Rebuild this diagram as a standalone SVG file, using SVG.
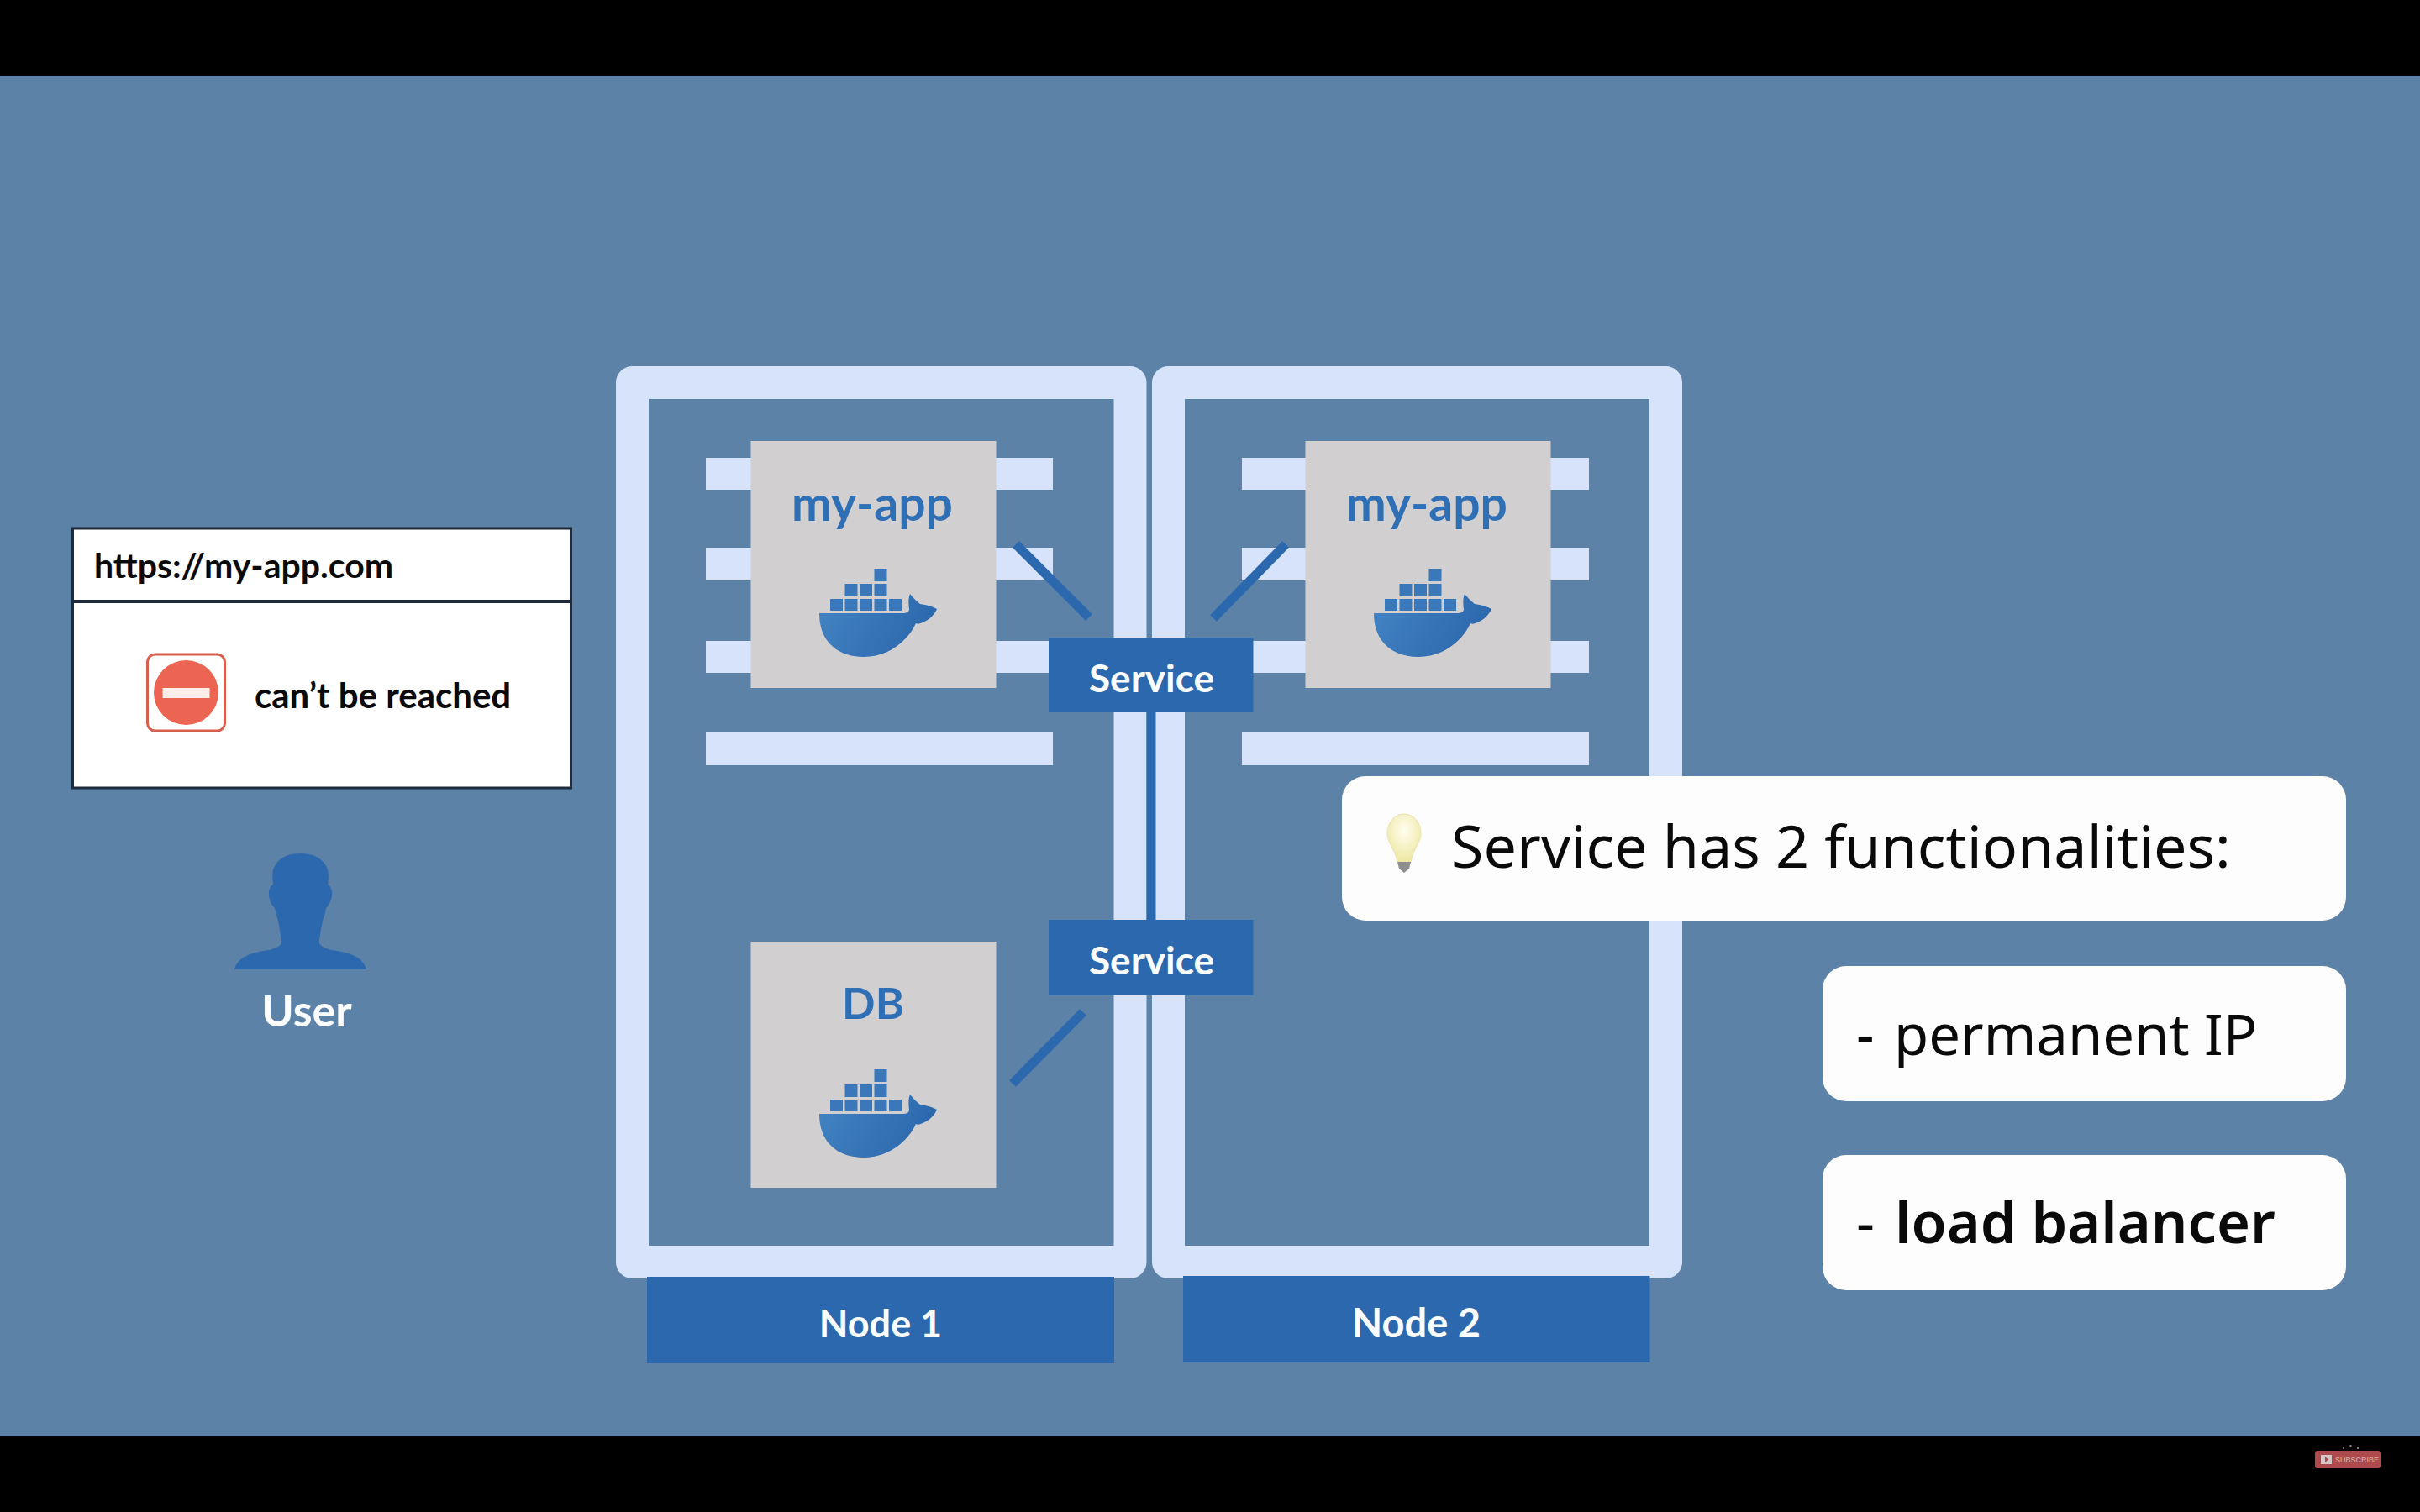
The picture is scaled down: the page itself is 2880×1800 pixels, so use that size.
<svg xmlns="http://www.w3.org/2000/svg" width="2880" height="1800" viewBox="0 0 2880 1800">
<defs>
<style>
.frame{fill:none;stroke:#d7e3fb;stroke-width:39;stroke-linejoin:round}
.bar{fill:#d7e3fb}
.pod{fill:#d2cfd0}
.blue{fill:#2c68ad}
.link{stroke:#2c68ad;stroke-width:11;fill:none}
.hand{font-family:"Lato","Noto Sans",sans-serif;font-weight:700}
.call{font-family:"Noto Sans","Open Sans",sans-serif;fill:#0a0a0a}
.card{fill:#fdfdfd}
.w{fill:#fbfdff;text-anchor:middle}
.podt{fill:#2f6fb5;text-anchor:middle}
</style>
<linearGradient id="hull" x1="0" y1="0" x2="1" y2="0.3"><stop offset="0" stop-color="#4484c4"/><stop offset="1" stop-color="#2c68ad"/></linearGradient>
<radialGradient id="bulb" cx="0.5" cy="0.35" r="0.6"><stop offset="0" stop-color="#fffef0"/><stop offset="1" stop-color="#efe9a8"/></radialGradient>
<g id="whale">
<rect x="988" y="713" width="15" height="14" fill="#3a78ba"/><rect x="1005.5" y="713" width="15" height="14" fill="#3a78ba"/><rect x="1023" y="713" width="15" height="14" fill="#3a78ba"/><rect x="1040.5" y="713" width="15" height="14" fill="#3a78ba"/><rect x="1058" y="713" width="15" height="14" fill="#3a78ba"/>
<rect x="1005.5" y="695" width="15" height="15" fill="#3a78ba"/><rect x="1023" y="695" width="15" height="15" fill="#3a78ba"/><rect x="1040.5" y="695" width="15" height="15" fill="#3a78ba"/>
<rect x="1040.5" y="677" width="15" height="15" fill="#3a78ba"/>
<path d="M975 730H1072C1077 730 1081 730 1082 726C1081 718 1081 712 1083 707C1087 712 1091 716 1095 719C1103 720 1110 722 1115 725C1112 732 1106 738 1098 741C1094 743 1092 743 1090 742C1082 760 1060 782 1028 782C998 782 975 765 975 730Z" fill="url(#hull)"/>
</g>
</defs>
<rect id="background" width="2880" height="1800" fill="#5d82a7"/>
<rect id="bar-top" width="2880" height="90" fill="#000"/>
<rect id="bar-bottom" y="1710" width="2880" height="90" fill="#000"/>

<g id="node-1-frame">
<rect class="frame" x="752.5" y="455.5" width="592.5" height="1047"/>
<rect class="bar" x="840" y="545" width="413" height="38"/>
<rect class="bar" x="840" y="652" width="413" height="39"/>
<rect class="bar" x="840" y="763" width="413" height="38"/>
<rect class="bar" x="840" y="872" width="413" height="39"/>
</g>
<g id="node-2-frame">
<rect class="frame" x="1390.5" y="455.5" width="592" height="1047"/>
<rect class="bar" x="1478" y="545" width="413" height="38"/>
<rect class="bar" x="1478" y="652" width="413" height="39"/>
<rect class="bar" x="1478" y="763" width="413" height="38"/>
<rect class="bar" x="1478" y="872" width="413" height="39"/>
</g>

<g id="pod-my-app-1">
<rect class="pod" x="893.5" y="525" width="292" height="294"/>
<text class="hand podt" x="1038" y="620" font-size="57">my-app</text>
<use href="#whale"/>
</g>
<g id="pod-my-app-2">
<rect class="pod" x="1553.5" y="525" width="292" height="294"/>
<text class="hand podt" x="1698" y="620" font-size="57">my-app</text>
<use href="#whale" x="660"/>
</g>
<g id="pod-db">
<rect class="pod" x="893.5" y="1121" width="292" height="293"/>
<text class="hand podt" x="1039" y="1213" font-size="52">DB</text>
<use href="#whale" y="596"/>
</g>

<g id="connectors">
<line class="link" x1="1209" y1="648" x2="1296" y2="735"/>
<line class="link" x1="1530" y1="648" x2="1444" y2="736"/>
<line class="link" x1="1289" y1="1205" x2="1205" y2="1290"/>
<line class="link" x1="1370" y1="848" x2="1370" y2="1095"/>
</g>

<g id="service-1">
<rect class="blue" x="1248" y="759" width="243.500" height="89"/>
<text class="hand w" x="1370.5" y="824" font-size="46">Service</text>
</g>
<g id="service-2">
<rect class="blue" x="1248" y="1095" width="243.500" height="90"/>
<text class="hand w" x="1370.5" y="1160" font-size="46">Service</text>
</g>

<g id="node-1-label">
<rect class="blue" x="770" y="1520" width="556" height="103"/>
<text class="hand w" x="1048" y="1592" font-size="45">Node 1</text>
</g>
<g id="node-2-label">
<rect class="blue" x="1408" y="1519" width="555.500" height="103"/>
<text class="hand w" x="1685.5" y="1592" font-size="47">Node 2</text>
</g>

<g id="browser">
<rect x="86.5" y="629" width="593" height="309" fill="#fff" stroke="#1d2b3c" stroke-width="3"/>
<line x1="86.5" y1="716" x2="679.5" y2="716" stroke="#1d2b3c" stroke-width="4"/>
<text class="hand" x="112" y="688" font-size="41" fill="#0a0a0a">https://my-app.com</text>
<rect x="175.5" y="779" width="92" height="91" rx="9" fill="#fff" stroke="#d9604f" stroke-width="3"/>
<circle cx="221.5" cy="824.5" r="38.5" fill="#ec6552"/>
<rect x="193.5" y="819" width="56" height="12" fill="#fdeeea"/>
<text class="hand" x="303" y="843" font-size="42" fill="#0a0a0a">can’t be reached</text>
</g>

<g id="user">
<path class="blue" d="M279 1154C283 1140 296 1134 321 1131C331 1128 336 1125 335 1120C334 1110 332 1103 331 1096C329 1090 328 1086 327 1081C322 1076 319 1068 320 1061C321 1056 323 1054 325 1053C324.500 1048 324 1044 324.500 1038.500C327 1024 340 1016 357.600 1016C375 1016 388 1024 390.700 1038.500C391 1044 390.700 1048 390 1053C392 1054 394 1056 395 1061C396 1068 393 1076 388 1081C387 1086 386 1090 384 1096C383 1103 381 1110 380 1120C379 1125 384 1128 394 1131C419 1134 432 1140 436 1154Z"/>
<text class="hand w" x="365" y="1222" font-size="52">User</text>
</g>

<g id="callout-title">
<rect class="card" x="1597" y="924" width="1195" height="172" rx="28"/>
<path d="M1671 969C1660 969 1651 979 1651 992C1651 1003 1659 1008 1663 1026H1679C1683 1008 1691 1003 1691 992C1691 979 1682 969 1671 969Z" fill="url(#bulb)" stroke="#e8e2a6" stroke-width="1"/>
<path d="M1663 1026H1679L1677 1034L1671 1039L1665 1034Z" fill="#8e8e8e"/>
<text class="call" x="1727" y="1033" font-size="70">Service has 2 functionalities:</text>
</g>
<g id="callout-ip">
<rect class="card" x="2169" y="1150" width="623" height="161" rx="28"/>
<text class="call" x="2209" y="1256" font-size="67">- <tspan x="2254">permanent IP</tspan></text>
</g>
<g id="callout-lb">
<rect class="card" x="2169" y="1375" width="623" height="161" rx="28"/>
<text class="call" x="2209" y="1480" font-size="68.500">- <tspan x="2255" font-weight="600">load balancer</tspan></text>
</g>

<g id="subscribe">
<rect x="2755" y="1727" width="78" height="21" rx="3" fill="#ad4a4b"/>
<rect x="2762" y="1732" width="13" height="11" fill="#d6c6c6"/>
<path d="M2767 1734L2771 1737.500L2767 1741Z" fill="#ad4a4b"/>
<text x="2779" y="1741" font-family="Liberation Sans, sans-serif" font-size="9" fill="#dcb6b6">SUBSCRIBE</text>
<rect x="2796.500" y="1720" width="2" height="3" fill="#888"/>
<rect x="2788" y="1723" width="2" height="2" fill="#777"/>
<rect x="2805" y="1723" width="2" height="2" fill="#777"/>
</g>
</svg>
